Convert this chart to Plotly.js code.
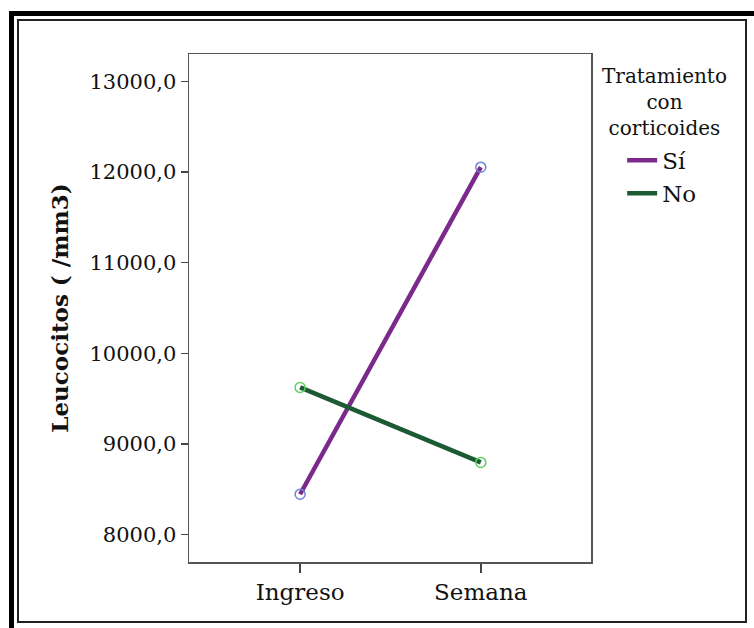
<!DOCTYPE html>
<html>
<head>
<meta charset="utf-8">
<script src="https://cdn.plot.ly/plotly-3.0.1.min.js"></script>
<style>
  html, body { margin: 0; padding: 0; background: #fff; }
  #wrap { position: relative; width: 754px; height: 628px; overflow: hidden; }
  #chart { position: absolute; left: 0; top: 0; width: 754px; height: 628px; }
  #frameOuter { position: absolute; left: 9px; top: 11px; width: 760px; height: 640px;
                border: 5px solid #000; box-sizing: border-box; pointer-events: none; }
  #frameInner { position: absolute; left: 17px; top: 19px; width: 730px; height: 604px;
                border: 2px solid #222; box-sizing: border-box; pointer-events: none; }
</style>
</head>
<body>
<div id="wrap">
  <div id="chart"></div>
  <div id="frameOuter"></div>
  <div id="frameInner"></div>
</div>
<script>
const categories = ["Ingreso", "Semana"];
const seriesNames = ["Sí", "No"];
const valuesSi = [8445, 12054];
const valuesNo = [9624, 8796];
const yTickVals = [8000, 9000, 10000, 11000, 12000, 13000];
const yTickText = ["8000,0", "9000,0", "10000,0", "11000,0", "12000,0", "13000,0"];
const legendTitle = "Tratamiento<br>con<br>corticoides";

const serif = "'DejaVu Serif', 'Liberation Serif', serif";

const traces = [
  { x: categories, y: valuesSi, name: seriesNames[0], type: "scatter", mode: "lines",
    line: { color: "#7b2a8c", width: 4.5 } },
  { x: categories, y: valuesNo, name: seriesNames[1], type: "scatter", mode: "lines",
    line: { color: "#1b5a33", width: 4.5 } },
  { x: categories, y: valuesSi, type: "scatter", mode: "markers", showlegend: false, hoverinfo: "skip",
    marker: { symbol: "circle-open", size: 10, color: "#7084d6", line: { width: 1.5 } } },
  { x: categories, y: valuesNo, type: "scatter", mode: "markers", showlegend: false, hoverinfo: "skip",
    marker: { symbol: "circle-open", size: 10, color: "#5fd15f", line: { width: 1.5 } } }
];

const layout = {
  width: 754, height: 628,
  margin: { l: 189, r: 163, t: 54, b: 66 },
  paper_bgcolor: "#fff", plot_bgcolor: "#fff",
  font: { family: serif, color: "#111", size: 17 },
  xaxis: {
    type: "category", range: [-0.615, 1.61],
    showgrid: false, zeroline: false,
    showline: true, mirror: true, linecolor: "#555", linewidth: 1.5,
    ticks: "outside", ticklen: 9, tickcolor: "#444", tickwidth: 1.5,
    tickfont: { family: serif, size: 23, color: "#111" }
  },
  yaxis: {
    range: [7697, 13303],
    tickvals: yTickVals, ticktext: yTickText,
    showgrid: false, zeroline: false,
    showline: true, mirror: true, linecolor: "#555", linewidth: 1.5,
    ticks: "outside", ticklen: 7, tickcolor: "#444", tickwidth: 1.5,
    tickfont: { family: serif, size: 21, color: "#111" },
    title: { text: "<b>Leucocitos ( /mm3)</b>", font: { family: serif, size: 23, color: "#111" }, standoff: 14 }
  },
  legend: {
    x: 1.0775, xanchor: "left", y: 0.833, yanchor: "top",
    bgcolor: "rgba(0,0,0,0)",
    font: { family: serif, size: 23, color: "#111" },
    itemwidth: 30, tracegroupgap: 0
  },
  annotations: [{
    xref: "paper", yref: "paper", x: 1.1825, y: 0.985, xanchor: "center", yanchor: "top",
    text: legendTitle, showarrow: false, align: "center",
    font: { family: serif, size: 20, color: "#111" }
  }],
  showlegend: true
};

Plotly.newPlot("chart", traces, layout, { displayModeBar: false, staticPlot: true });
</script>
</body>
</html>
